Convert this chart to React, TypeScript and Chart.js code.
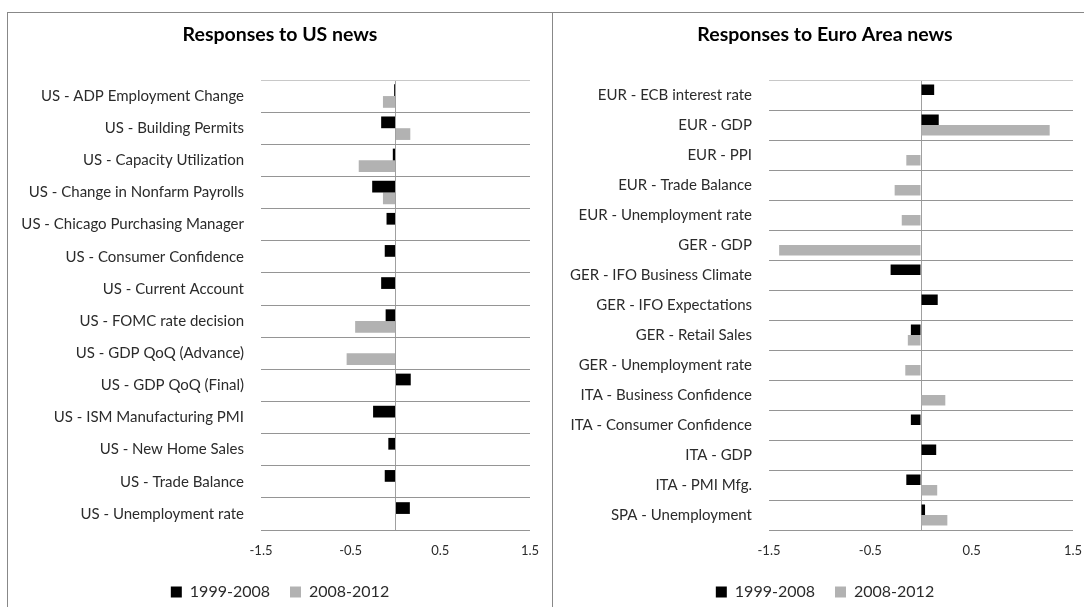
import { useEffect, useRef } from "react";
import { Chart, registerables } from "chart.js";

Chart.register(...registerables);

const SERIES_LABELS = ["1999-2008", "2008-2012"];

const US_CATEGORIES = [
  "US - ADP Employment Change",
  "US - Building Permits",
  "US - Capacity Utilization",
  "US - Change in Nonfarm Payrolls",
  "US - Chicago Purchasing Manager",
  "US - Consumer Confidence",
  "US - Current Account",
  "US - FOMC rate decision",
  "US - GDP QoQ (Advance)",
  "US - GDP QoQ (Final)",
  "US - ISM Manufacturing PMI",
  "US - New Home Sales",
  "US - Trade Balance",
  "US - Unemployment rate",
];
const US_1999_2008 = [-0.015, -0.16, -0.03, -0.26, -0.1, -0.12, -0.16, -0.11, null, 0.17, -0.25, -0.08, -0.12, 0.16];
const US_2008_2012 = [-0.14, 0.165, -0.41, -0.14, null, null, null, -0.45, -0.545, null, null, null, null, null];

const EA_CATEGORIES = [
  "EUR - ECB interest rate",
  "EUR - GDP",
  "EUR - PPI",
  "EUR - Trade Balance",
  "EUR - Unemployment rate",
  "GER - GDP",
  "GER - IFO Business Climate",
  "GER - IFO Expectations",
  "GER - Retail Sales",
  "GER - Unemployment rate",
  "ITA - Business Confidence",
  "ITA - Consumer Confidence",
  "ITA - GDP",
  "ITA - PMI Mfg.",
  "SPA - Unemployment",
];
const EA_1999_2008 = [0.13, 0.175, null, null, null, null, -0.3, 0.165, -0.1, null, null, -0.1, 0.15, -0.145, 0.04];
const EA_2008_2012 = [null, 1.27, -0.145, -0.26, -0.19, -1.4, null, null, -0.13, -0.155, 0.24, null, null, 0.16, 0.26];

const X_MIN = -1.5;
const X_MAX = 1.5;
const X_TICK_LABELS = [-1.5, -0.5, 0.5, 1.5];

const FONT = "Lato, 'Liberation Sans', sans-serif";
const TEXT = "#2b2b2b";

type PanelProps = {
  title: string;
  categories: string[];
  early: (number | null)[];
  late: (number | null)[];
  axisWidth: number;
  padRight: number;
  catPct: number;
};

function Panel({ title, categories, early, late, axisWidth, padRight, catPct }: PanelProps) {
  const ref = useRef<HTMLCanvasElement | null>(null);

  useEffect(() => {
    if (!ref.current) return;
    const chart = new Chart(ref.current, {
      type: "bar",
      data: {
        labels: categories,
        datasets: [
          {
            label: SERIES_LABELS[0],
            data: early as any,
            backgroundColor: "#000000",
            borderWidth: 0,
            categoryPercentage: catPct,
            barPercentage: 1,
          },
          {
            label: SERIES_LABELS[1],
            data: late as any,
            backgroundColor: "#b2b2b2",
            borderWidth: 0,
            categoryPercentage: catPct,
            barPercentage: 1,
          },
        ],
      },
      options: {
        indexAxis: "y",
        animation: false,
        responsive: false,
        maintainAspectRatio: false,
        layout: { padding: { left: 0, right: 0, top: 0, bottom: 3 } },
        plugins: {
          title: {
            display: true,
            text: title,
            color: "#000000",
            font: { family: FONT, size: 19.5, weight: "bold" },
            padding: { top: 10.3, bottom: 33.3 },
          },
          legend: {
            position: "bottom",
            labels: {
              boxWidth: 11,
              boxHeight: 11,
              padding: 20,
              color: TEXT,
              font: { family: FONT, size: 16 },
            },
          },
          tooltip: { enabled: false },
        },
        scales: {
          x: {
            type: "linear",
            min: X_MIN,
            max: X_MAX,
            ticks: {
              stepSize: 0.5,
              autoSkip: false,
              maxRotation: 0,
              padding: 13,
              color: TEXT,
              font: { family: FONT, size: 13 },
              callback: (v: any) => (X_TICK_LABELS.includes(Number(v)) ? String(v) : ""),
            },
            grid: {
              drawTicks: false,
              color: (ctx: any) => (ctx.tick && ctx.tick.value === 0 ? "#a0a0a0" : "rgba(0,0,0,0)"),
            },
            border: { display: false },
            afterFit: (s: any) => {
              // fixed axis band height; the right gap is reserved for the plot only
              s.height = 34;
              s.paddingLeft = 0;
              s.paddingRight = padRight;
            },
          },
          y: {
            ticks: {
              autoSkip: false,
              padding: 17,
              color: TEXT,
              font: { family: FONT, size: 15 },
            },
            grid: {
              offset: true,
              drawTicks: false,
              color: (ctx: any) => (ctx.index === 0 ? "#c8c8c8" : "#959595"),
            },
            border: { display: false },
            afterFit: (s: any) => {
              s.width = axisWidth;
              s.paddingTop = 0;
              s.paddingBottom = 0;
            },
          },
        },
      },
    });
    return () => chart.destroy();
  }, [title, categories, early, late, axisWidth, padRight, catPct]);

  return <canvas ref={ref} width={544} height={600} style={{ display: "block" }} />;
}

export default function App() {
  const panelStyle = (left: number): React.CSSProperties => ({
    position: "absolute",
    left,
    top: 12,
    width: 546,
    height: 620,
    border: "1px solid #888888",
    boxSizing: "border-box",
    background: "#ffffff",
  });
  return (
    <div
      style={{
        position: "fixed",
        left: 0,
        top: 0,
        width: 1084,
        height: 607,
        overflow: "hidden",
        background: "#ffffff",
      }}
    >
      <div style={panelStyle(7)}>
        <Panel
          title="Responses to US news"
          categories={US_CATEGORIES}
          early={US_1999_2008}
          late={US_2008_2012}
          axisWidth={253}
          padRight={22}
          catPct={0.73}
        />
      </div>
      <div style={panelStyle(552)}>
        <Panel
          title="Responses to Euro Area news"
          categories={EA_CATEGORIES}
          early={EA_1999_2008}
          late={EA_2008_2012}
          axisWidth={216}
          padRight={24}
          catPct={0.7}
        />
      </div>
    </div>
  );
}
